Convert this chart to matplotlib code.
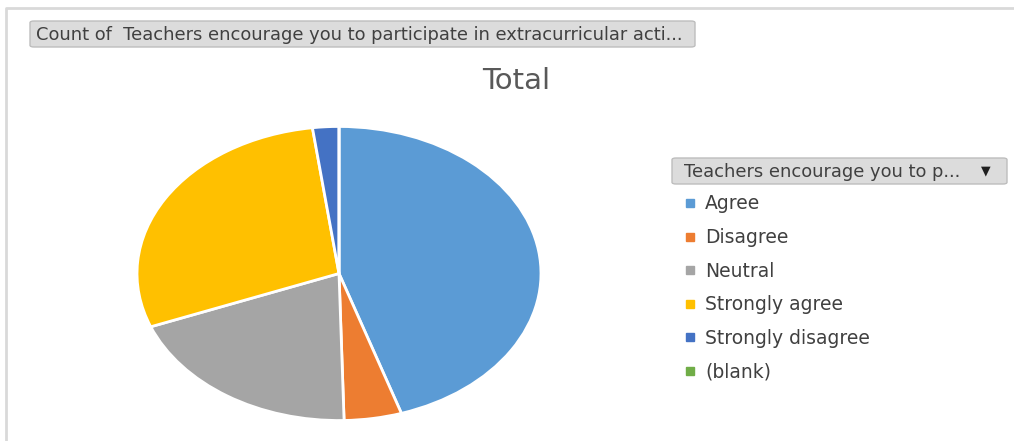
import matplotlib
matplotlib.use("Agg")
import matplotlib.pyplot as plt
from matplotlib.patches import FancyBboxPatch
from matplotlib.lines import Line2D

# pivot chart data (shares, in %)
categories = ['Agree', 'Disagree', 'Neutral', 'Strongly agree', 'Strongly disagree', '(blank)']
values = [45.0, 4.6, 19.5, 28.8, 2.1, 0.0]
colors = ['#5B9BD5', '#ED7D31', '#A5A5A5', '#FFC000', '#4472C4', '#70AD47']

field_button = 'Count of  Teachers encourage you to participate in extracurricular acti...'
legend_button = 'Teachers encourage you to p...'
chart_title = 'Total'

W, H = 1014, 441
plt.rcParams['font.family'] = ['DejaVu Sans']

fig = plt.figure(figsize=(W / 100, H / 100), dpi=100)
fig.patch.set_facecolor('white')


def fx(px):
    return px / W


def fy(py):
    return 1 - py / H


# chart area border (top and left edge visible)
fig.add_artist(Line2D([fx(6), fx(6), fx(1013)], [fy(441), fy(7.5), fy(7.5)],
                      color='#D9D9D9', lw=2))

# pie, stretched horizontally like the original
ax = fig.add_axes([fx(135), fy(422), fx(543) - fx(135), fy(125) - fy(422)])
wedges, _ = ax.pie(values, colors=colors, startangle=90, counterclock=False,
                   radius=1, wedgeprops=dict(edgecolor='white', linewidth=2))
ax.set_aspect('auto')
ax.set_xlim(-1.01, 1.01)
ax.set_ylim(-1.01, 1.01)
ax.axis('off')

fig.text(fx(516), fy(81), chart_title, fontsize=21, color='#595959',
         ha='center', va='center')

# field buttons
for x0, y0, x1, y1 in [(30, 21, 695, 47), (672, 158, 1007, 184)]:
    fig.add_artist(FancyBboxPatch((fx(x0), fy(y1)), fx(x1) - fx(x0), fy(y0) - fy(y1),
                                  boxstyle='round,pad=0,rounding_size=0.004',
                                  facecolor='#DCDCDC', edgecolor='#BDBDBD', lw=1,
                                  transform=fig.transFigure))
fig.text(fx(36), fy(34.5), field_button, fontsize=12.9, color='#404040',
         ha='left', va='center')
fig.text(fx(684), fy(172), legend_button, fontsize=12.9, color='#404040',
         ha='left', va='center')
fig.text(fx(986), fy(171), '\u25BC', fontsize=9, color='#202020',
         ha='center', va='center')

handles = [Line2D([], [], marker='s', linestyle='none', markersize=6,
                  markerfacecolor=c, markeredgecolor=c) for c in colors]
fig.legend(handles, categories, loc='upper left',
           bbox_to_anchor=(fx(676), fy(187)), frameon=False,
           fontsize=13.5, labelcolor='#404040', handlelength=0.7,
           handletextpad=0.45, labelspacing=0.78, borderaxespad=0)

fig.savefig('out.png', dpi=100)
